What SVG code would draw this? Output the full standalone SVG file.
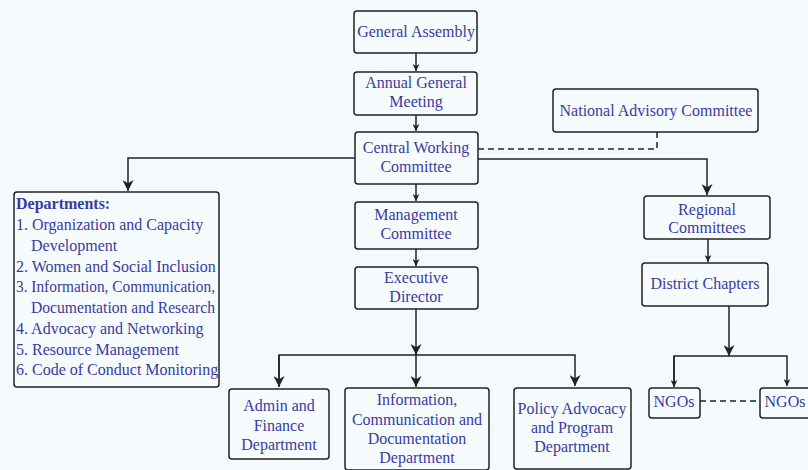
<svg xmlns="http://www.w3.org/2000/svg" width="808" height="470" viewBox="0 0 808 470">
<style>
.bg{fill:#f3f9fd}
.box{fill:#f6fbfe;stroke:#222;stroke-width:1.5}
.t{font-family:"Liberation Serif","Times New Roman",serif;font-size:16px;fill:#3a3a9e;text-anchor:middle}
.tl{font-family:"Liberation Serif","Times New Roman",serif;font-size:16px;fill:#3a3a9e}
.c{fill:none;stroke:#222;stroke-width:1.5}
.d{fill:none;stroke:#222;stroke-width:1.5;stroke-dasharray:6 4}
</style>
<defs>
<marker id="ah" viewBox="0 0 10 10" refX="10" refY="5" markerWidth="7" markerHeight="7" orient="auto" markerUnits="userSpaceOnUse">
<path d="M0,0 L10,5 L0,10 L3,5 z" fill="#222"/>
</marker>
<marker id="ahb" viewBox="0 0 10 10" refX="10" refY="5" markerWidth="11" markerHeight="11" orient="auto" markerUnits="userSpaceOnUse">
<path d="M0,0 L10,5 L0,10 L3,5 z" fill="#222"/>
</marker>
</defs>
<rect class="bg" x="0" y="0" width="808" height="470"/>
<g id="connectors">
<path class="c" d="M416,53 V71" marker-end="url(#ah)"/>
<path class="c" d="M416,115 V131" marker-end="url(#ah)"/>
<path class="c" d="M416,184 V201" marker-end="url(#ah)"/>
<path class="c" d="M416,249 V266" marker-end="url(#ah)"/>
<path class="c" d="M355,158 H128 V191" marker-end="url(#ahb)"/>
<path class="d" d="M657,132 V149 H478"/>
<path class="c" d="M478,159 H707 V195" marker-end="url(#ahb)"/>
<path class="c" d="M708,239 V262" marker-end="url(#ah)"/>
<path class="c" d="M416,309 V355" marker-end="url(#ahb)"/>
<path class="c" d="M279,386 V355 H575 V386" marker-end="url(#ahb)"/>
<path class="c" d="M279,355 V387" marker-end="url(#ahb)"/>
<path class="c" d="M416,355 V387" marker-end="url(#ahb)"/>
<path class="c" d="M729,306 V356" marker-end="url(#ahb)"/>
<path class="c" d="M674,386 V356 H787 V386" marker-end="url(#ah)"/>
<path class="c" d="M674,356 V387" marker-end="url(#ah)"/>
<path class="d" d="M700,401 H760"/>
</g>
<g id="general-assembly">
<rect class="box" x="354" y="11" width="123" height="42" rx="3"/>
<text class="t" x="416" y="37">General Assembly</text>
</g>
<g id="annual-general-meeting">
<rect class="box" x="354" y="72" width="123" height="43" rx="3"/>
<text class="t" x="416" y="88">Annual General</text>
<text class="t" x="416" y="107">Meeting</text>
</g>
<g id="central-working-committee">
<rect class="box" x="355" y="132" width="123" height="52" rx="3"/>
<text class="t" x="416" y="153">Central Working</text>
<text class="t" x="416" y="172">Committee</text>
</g>
<g id="national-advisory-committee">
<rect class="box" x="553" y="89" width="205" height="43" rx="3"/>
<text class="t" x="656" y="116">National Advisory Committee</text>
</g>
<g id="departments">
<rect class="box" x="14" y="192" width="205" height="195" rx="3"/>
<text class="tl" x="16" y="209" font-weight="bold">Departments:</text>
<text class="tl" x="16" y="230">1. Organization and Capacity</text>
<text class="tl" x="31" y="251">Development</text>
<text class="tl" x="16" y="272">2. Women and Social Inclusion</text>
<text class="tl" x="16" y="292" textLength="199" lengthAdjust="spacingAndGlyphs">3. Information, Communication,</text>
<text class="tl" x="31" y="313" textLength="184" lengthAdjust="spacingAndGlyphs">Documentation and Research</text>
<text class="tl" x="16" y="334">4. Advocacy and Networking</text>
<text class="tl" x="16" y="355">5. Resource Management</text>
<text class="tl" x="16" y="375">6. Code of Conduct Monitoring</text>
</g>
<g id="management-committee">
<rect class="box" x="355" y="202" width="123" height="47" rx="3"/>
<text class="t" x="416" y="220">Management</text>
<text class="t" x="416" y="239">Committee</text>
</g>
<g id="executive-director">
<rect class="box" x="355" y="267" width="123" height="42" rx="3"/>
<text class="t" x="416" y="283">Executive</text>
<text class="t" x="416" y="302">Director</text>
</g>
<g id="regional-committees">
<rect class="box" x="644" y="196" width="126" height="43" rx="3"/>
<text class="t" x="707" y="215">Regional</text>
<text class="t" x="707" y="233">Committees</text>
</g>
<g id="district-chapters">
<rect class="box" x="642" y="263" width="126" height="43" rx="3"/>
<text class="t" x="705" y="289">District Chapters</text>
</g>
<g id="admin-finance">
<rect class="box" x="229" y="389" width="100" height="70" rx="3"/>
<text class="t" x="279" y="411">Admin and</text>
<text class="t" x="279" y="431">Finance</text>
<text class="t" x="279" y="450">Department</text>
</g>
<g id="icd-department">
<rect class="box" x="345" y="388" width="144" height="82" rx="3"/>
<text class="t" x="417" y="405">Information,</text>
<text class="t" x="417" y="425">Communication and</text>
<text class="t" x="417" y="444">Documentation</text>
<text class="t" x="417" y="463">Department</text>
</g>
<g id="policy-advocacy">
<rect class="box" x="514" y="388" width="117" height="81" rx="3"/>
<text class="t" x="572" y="414">Policy Advocacy</text>
<text class="t" x="572" y="433">and Program</text>
<text class="t" x="572" y="452">Department</text>
</g>
<g id="ngos-1">
<rect class="box" x="649" y="388" width="51" height="30" rx="3"/>
<text class="t" x="674" y="407">NGOs</text>
</g>
<g id="ngos-2">
<rect class="box" x="760" y="388" width="51" height="30" rx="3"/>
<text class="t" x="785" y="407">NGOs</text>
</g>
</svg>
